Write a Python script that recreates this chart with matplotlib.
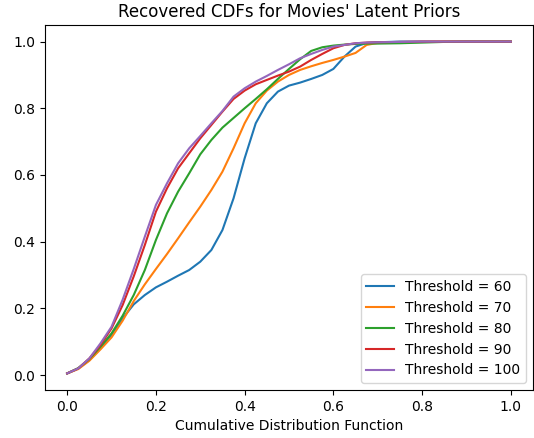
import matplotlib
matplotlib.use("Agg")
import matplotlib.pyplot as plt

x = [0.0, 0.025, 0.05, 0.075, 0.1, 0.125, 0.15, 0.175, 0.2, 0.225, 0.25, 0.275,
     0.3, 0.325, 0.35, 0.375, 0.4, 0.425, 0.45, 0.475, 0.5, 0.525, 0.55, 0.575,
     0.6, 0.625, 0.65, 0.675, 0.7, 0.75, 0.8, 0.85, 0.9, 0.95, 1.0]

t60 = [0.005, 0.02, 0.045, 0.08, 0.12, 0.17, 0.212, 0.24, 0.263, 0.28, 0.298, 0.315,
       0.34, 0.375, 0.435, 0.53, 0.65, 0.755, 0.815, 0.85, 0.868, 0.877, 0.888, 0.90,
       0.918, 0.955, 0.985, 0.996, 0.998, 1.0, 1.0, 1.0, 1.0, 1.0, 1.0]
t70 = [0.005, 0.018, 0.043, 0.077, 0.113, 0.163, 0.222, 0.272, 0.318, 0.363, 0.41, 0.458,
       0.505, 0.555, 0.61, 0.68, 0.755, 0.815, 0.853, 0.88, 0.90, 0.915, 0.926, 0.936,
       0.945, 0.955, 0.966, 0.99, 0.996, 0.998, 0.999, 1.0, 1.0, 1.0, 1.0]
t80 = [0.005, 0.021, 0.048, 0.085, 0.125, 0.178, 0.24, 0.315, 0.405, 0.485, 0.55, 0.605,
       0.662, 0.705, 0.742, 0.771, 0.80, 0.828, 0.857, 0.888, 0.918, 0.947, 0.972, 0.983,
       0.988, 0.991, 0.993, 0.994, 0.994, 0.995, 0.997, 0.999, 1.0, 1.0, 1.0]
t90 = [0.005, 0.02, 0.05, 0.09, 0.14, 0.21, 0.296, 0.39, 0.49, 0.56, 0.62, 0.665,
       0.71, 0.75, 0.79, 0.828, 0.853, 0.872, 0.885, 0.898, 0.91, 0.925, 0.945, 0.963,
       0.98, 0.99, 0.995, 0.997, 0.998, 0.999, 1.0, 1.0, 1.0, 1.0, 1.0]
t100 = [0.005, 0.02, 0.05, 0.095, 0.145, 0.226, 0.318, 0.415, 0.51, 0.575, 0.635, 0.68,
        0.717, 0.755, 0.792, 0.835, 0.86, 0.88, 0.897, 0.915, 0.932, 0.95, 0.963, 0.975,
        0.985, 0.99, 0.995, 0.997, 0.998, 0.999, 1.0, 1.0, 1.0, 1.0, 1.0]

labels = ["Threshold = 60", "Threshold = 70", "Threshold = 80",
          "Threshold = 90", "Threshold = 100"]
series = [t60, t70, t80, t90, t100]

fig = plt.figure(figsize=(5.34, 4.38), dpi=100)
ax = fig.add_axes([45 / 534, 48 / 438, 488 / 534, 365 / 438])
for s, lab in zip(series, labels):
    ax.plot(x, s, label=lab, linewidth=1.5)

ax.set_title("Recovered CDFs for Movies' Latent Priors", fontsize=12)
ax.set_xlabel("Cumulative Distribution Function")
ax.set_xticks([0.0, 0.2, 0.4, 0.6, 0.8, 1.0])
ax.set_yticks([0.0, 0.2, 0.4, 0.6, 0.8, 1.0])
ax.legend(loc="lower right")
fig.savefig("out.png", dpi=100)
